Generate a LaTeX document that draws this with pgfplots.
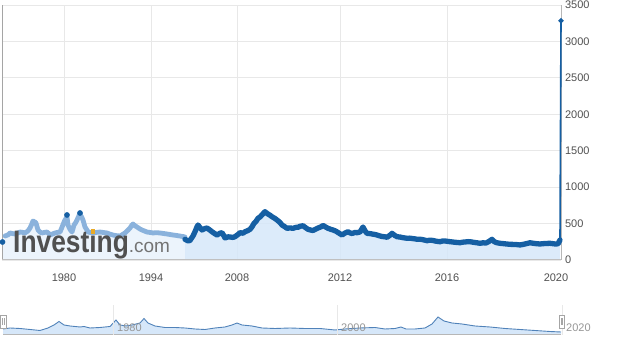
\documentclass[border=0pt]{standalone}
\usepackage{fontspec}
\setmainfont{Liberation Sans}
\usepackage{graphicx}
\usepackage{pgfplots}
\pgfplotsset{compat=1.18}
\definecolor{darkline}{RGB}{21,95,163}
\definecolor{lightline}{RGB}{138,178,220}
\definecolor{darkfill}{RGB}{214,231,249}
\definecolor{lightfill}{RGB}{236,244,252}
\definecolor{gridc}{RGB}{232,232,232}
\definecolor{labc}{RGB}{80,80,80}
\definecolor{navline}{RGB}{80,130,185}
\definecolor{navlab}{RGB}{150,150,150}
\definecolor{axisc}{RGB}{165,165,165}
\definecolor{logogray}{RGB}{80,80,80}
\definecolor{logocom}{RGB}{115,115,115}
\definecolor{logogold}{RGB}{232,170,40}
\newcommand{\goldi}{\setbox0\hbox{\i}\rlap{\hbox to \wd0{\hss\textcolor{logogold}{\rule[0.6em]{0.17em}{0.17em}}\hss}}\box0}
\begin{document}
\begin{tikzpicture}[x=1pt,y=1pt]
\useasboundingbox (0,0) rectangle (633,345);
\begin{axis}[
  at={(2.5pt,85pt)}, anchor=south west, scale only axis,
  width=558.5pt, height=255pt,
  xmin=2.5, xmax=561, ymin=0, ymax=3500,
  axis line style={draw=none},
  xtick={64,151,237,340,447}, xticklabels={1980,1994,2008,2012,2016},
  extra x ticks={556}, extra x tick labels={2020}, extra x tick style={grid=none},
  ytick={0,500,...,3500},
  yticklabel pos=right,
  grid=major, grid style={gridc, line width=0.8pt},
  major tick length=0pt,
  tick label style={font=\fontsize{11}{13}\selectfont, text=labc},
  xticklabel style={yshift=-10pt},
  yticklabel style={xshift=0.5pt},
  /pgf/number format/assume math mode=true,
  /pgf/number format/1000 sep={},
  clip=false,
]
% fills
\addplot[draw=none, fill=lightfill] coordinates {(2.5,250)(5,329)(8,345)(10,371)(13,362)(15,357)(18,372)(20,384)(23,378)(25,371)(28,400)(30,439)(32,500)(33,535)(35,520)(36,508)(37,460)(38,412)(40,385)(42,371)(45,380)(47,384)(49,360)(50,343)(53,360)(55,371)(58,380)(60,384)(62,450)(64,520)(65,549)(67,590)(68,480)(70,420)(72,384)(73,430)(74,480)(76,520)(77,549)(79,610)(80,630)(82,580)(83,549)(85,453)(87,410)(88,384)(90,378)(93,371)(96,378)(100,384)(103,378)(107,371)(110,355)(113,343)(116,335)(120,329)(122,345)(125,371)(128,410)(130,439)(132,480)(133,494)(135,470)(137,453)(140,425)(142,412)(145,395)(147,384)(150,378)(153,371)(156,375)(160,371)(163,365)(167,357)(170,350)(173,343)(176,338)(180,329)(183,322)(185,316)} \closedcycle;
\addplot[draw=none, fill=darkfill, fill opacity=0.85] coordinates {(185,284)(188,262)(190,268)(193,330)(195,388)(197,455)(198,480)(200,445)(202,412)(205,432)(207,439)(210,410)(212,388)(215,360)(217,343)(220,368)(222,375)(224,330)(225,302)(228,318)(230,316)(233,310)(235,320)(238,350)(240,375)(243,368)(245,388)(248,405)(250,421)(252,455)(254,504)(256,530)(258,572)(260,590)(262,618)(264,650)(265,663)(267,640)(268,631)(270,615)(272,594)(275,570)(277,549)(280,515)(282,480)(285,455)(287,435)(290,440)(293,435)(296,448)(298,449)(300,462)(303,470)(306,440)(308,421)(311,410)(313,405)(316,425)(318,439)(321,455)(323,474)(326,450)(328,435)(331,420)(333,412)(336,395)(338,377)(340,360)(342,343)(345,370)(348,388)(350,372)(352,364)(355,378)(357,375)(360,384)(362,430)(363,453)(365,400)(367,366)(370,362)(372,357)(375,350)(377,343)(380,330)(382,323)(385,318)(387,312)(390,340)(392,366)(395,335)(397,320)(400,315)(402,309)(405,302)(407,298)(410,300)(412,295)(415,290)(417,284)(420,285)(422,281)(425,272)(427,265)(430,272)(433,268)(436,258)(440,251)(443,262)(445,261)(448,255)(450,251)(453,247)(455,243)(458,240)(460,237)(463,245)(465,247)(468,252)(470,251)(473,244)(475,240)(478,234)(480,229)(483,236)(486,233)(489,255)(492,284)(494,255)(496,240)(498,234)(500,229)(503,225)(505,222)(508,218)(510,215)(513,214)(515,213)(518,210)(520,206)(523,214)(525,220)(528,230)(530,237)(533,230)(535,226)(538,222)(540,220)(543,224)(545,226)(548,228)(550,229)(553,224)(555,220)(558,222)(560,275)} \closedcycle;
% axis lines
\draw[axisc, line width=1pt] (rel axis cs:0,0) -- (rel axis cs:0,1);
\draw[axisc!70, line width=1pt] (rel axis cs:0,0) -- (rel axis cs:1,0);
\draw[axisc!80, line width=0.8pt] (rel axis cs:1,0) -- (rel axis cs:1,1);
% lines
\addplot[lightline, line width=4.8pt, line join=round, line cap=round] coordinates {(5,329)(8,345)(10,371)(13,362)(15,357)(18,372)(20,384)(23,378)(25,371)(28,400)(30,439)(32,500)(33,535)(35,520)(36,508)(37,460)(38,412)(40,385)(42,371)(45,380)(47,384)(49,360)(50,343)(53,360)(55,371)(58,380)(60,384)(62,450)(64,520)(65,549)(67,590)(68,480)(70,420)(72,384)(73,430)(74,480)(76,520)(77,549)(79,610)(80,630)(82,580)(83,549)(85,453)(87,410)(88,384)(90,378)(93,371)(96,378)(100,384)(103,378)(107,371)(110,355)(113,343)(116,335)(120,329)(122,345)(125,371)(128,410)(130,439)(132,480)(133,494)(135,470)(137,453)(140,425)(142,412)(145,395)(147,384)(150,378)(153,371)(156,375)(160,371)(163,365)(167,357)(170,350)(173,343)(176,338)(180,329)(183,322)(185,316)};
\addplot[darkline, line width=5.3pt, line join=round, line cap=round] coordinates {(185,284)(188,262)(190,268)(193,330)(195,388)(197,455)(198,480)(200,445)(202,412)(205,432)(207,439)(210,410)(212,388)(215,360)(217,343)(220,368)(222,375)(224,330)(225,302)(228,318)(230,316)(233,310)(235,320)(238,350)(240,375)(243,368)(245,388)(248,405)(250,421)(252,455)(254,504)(256,530)(258,572)(260,590)(262,618)(264,650)(265,663)(267,640)(268,631)(270,615)(272,594)(275,570)(277,549)(280,515)(282,480)(285,455)(287,435)(290,440)(293,435)(296,448)(298,449)(300,462)(303,470)(306,440)(308,421)(311,410)(313,405)(316,425)(318,439)(321,455)(323,474)(326,450)(328,435)(331,420)(333,412)(336,395)(338,377)(340,360)(342,343)(345,370)(348,388)(350,372)(352,364)(355,378)(357,375)(360,384)(362,430)(363,453)(365,400)(367,366)(370,362)(372,357)(375,350)(377,343)(380,330)(382,323)(385,318)(387,312)(390,340)(392,366)(395,335)(397,320)(400,315)(402,309)(405,302)(407,298)(410,300)(412,295)(415,290)(417,284)(420,285)(422,281)(425,272)(427,265)(430,272)(433,268)(436,258)(440,251)(443,262)(445,261)(448,255)(450,251)(453,247)(455,243)(458,240)(460,237)(463,245)(465,247)(468,252)(470,251)(473,244)(475,240)(478,234)(480,229)(483,236)(486,233)(489,255)(492,284)(494,255)(496,240)(498,234)(500,229)(503,225)(505,222)(508,218)(510,215)(513,214)(515,213)(518,210)(520,206)(523,214)(525,220)(528,230)(530,237)(533,230)(535,226)(538,222)(540,220)(543,224)(545,226)(548,228)(550,229)(553,224)(555,220)(558,222)(560,275)};
\addplot[darkline, line width=1.6pt, mark=*, mark size=1.8pt, mark indices={2}] coordinates {(560,275)(561,3283)};
\addplot[darkline, only marks, mark=*, mark size=2.6pt] coordinates {(2.5,247)(67,618)(80,645)};
\end{axis}
% Investing.com watermark
\node[anchor=base west, inner sep=0pt] at (13,92) {\textcolor{logogray}{\scalebox{0.85}[1]{\fontsize{31}{31}\selectfont\bfseries Invest\goldi ng}}\textcolor{logocom}{\fontsize{19}{19}\selectfont .com}};
% navigator
\begin{axis}[
  at={(3pt,10pt)}, anchor=south west, scale only axis,
  width=559pt, height=30pt,
  xmin=3, xmax=562, ymin=100, ymax=1000,
  axis line style={draw=none},
  axis on top,
  xtick={113,337}, xticklabels={1980,2000},
  extra x ticks={562}, extra x tick labels={2020},
  ytick=\empty,
  xmajorgrids, grid style={gridc, line width=0.8pt},
  major tick length=0pt,
  xticklabel style={font=\fontsize{11}{13}\selectfont, text=navlab, anchor=base west, inner sep=0pt, xshift=4pt, yshift=3pt},
  /pgf/number format/assume math mode=true,
  /pgf/number format/1000 sep={},
  clip=false,
]
\addplot[draw=none, fill=darkfill] coordinates {(3,280)(10,310)(20,295)(30,265)(40,235)(48,310)(54,400)(59,505)(64,400)(70,370)(80,340)(84,355)(90,310)(100,325)(110,355)(116,550)(120,400)(126,370)(132,400)(140,460)(144,595)(148,460)(155,370)(165,325)(175,325)(185,310)(195,280)(205,265)(215,310)(225,340)(232,400)(237,460)(242,400)(252,370)(262,310)(275,295)(290,310)(305,295)(320,295)(335,250)(345,280)(360,310)(375,325)(385,280)(395,295)(401,340)(406,280)(415,280)(425,310)(432,430)(438,640)(444,520)(452,460)(462,430)(475,370)(490,340)(505,295)(520,265)(535,235)(550,205)(561,190)} \closedcycle;
\addplot[navline, line width=0.9pt] coordinates {(3,280)(10,310)(20,295)(30,265)(40,235)(48,310)(54,400)(59,505)(64,400)(70,370)(80,340)(84,355)(90,310)(100,325)(110,355)(116,550)(120,400)(126,370)(132,400)(140,460)(144,595)(148,460)(155,370)(165,325)(175,325)(185,310)(195,280)(205,265)(215,310)(225,340)(232,400)(237,460)(242,400)(252,370)(262,310)(275,295)(290,310)(305,295)(320,295)(335,250)(345,280)(360,310)(375,325)(385,280)(395,295)(401,340)(406,280)(415,280)(425,310)(432,430)(438,640)(444,520)(452,460)(462,430)(475,370)(490,340)(505,295)(520,265)(535,235)(550,205)(561,190)};
\draw[axisc!80, line width=1pt] (axis cs:3,100) -- (axis cs:561,100);
\end{axis}
% navigator handles
\draw[axisc, fill=white, line width=0.7pt] (0.5,17) rectangle (6,30);
\draw[axisc, line width=0.5pt] (2.5,20) -- (2.5,27) (4,20) -- (4,27);
\draw[axisc, fill=white, line width=0.7pt] (559,17) rectangle (564.5,30);
\draw[axisc, line width=0.5pt] (561,20) -- (561,27) (562.5,20) -- (562.5,27);
\end{tikzpicture}
\end{document}
